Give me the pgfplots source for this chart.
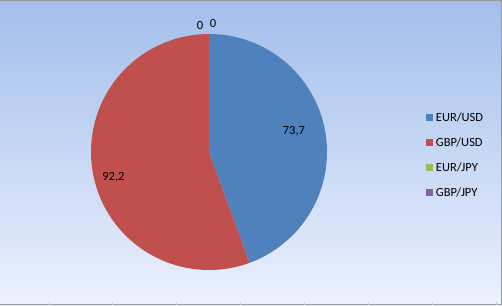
\documentclass[border=0pt]{standalone}
\usepackage{pgfplots}
\pgfplotsset{compat=1.18}
\usepackage{fontspec}
\setmainfont{Carlito}
\definecolor{eurusd}{HTML}{4F81BD}
\definecolor{gbpusd}{HTML}{C0504D}
\definecolor{eurjpy}{HTML}{9BBB59}
\definecolor{gbpjpy}{HTML}{8064A2}
\definecolor{bgtop}{RGB}{163,190,235}
\definecolor{bgbot}{RGB}{235,241,254}
\def\vA{73.7}
\def\vB{92.2}
\def\vC{0}
\def\vD{0}
\begin{document}
\begin{tikzpicture}
\path[use as bounding box] (0,0) rectangle (502bp,306bp);
\shade[top color=bgtop, bottom color=bgbot] (0,0) rectangle (502bp,306bp);
\draw[gray!80, line width=1bp] (0,305.5bp) -- (501.5bp,305.5bp) -- (501.5bp,1.5bp) -- (0,1.5bp);
\foreach \xx in {49,112,176,240,304,368,432,496}
  \draw[gray!40, line width=0.6bp] (\xx bp,1bp) -- (\xx bp,3.5bp);
\pgfmathsetmacro{\tot}{\vA+\vB+\vC+\vD}
\pgfmathsetmacro{\aA}{90-\vA/\tot*360}
\pgfmathsetmacro{\aB}{\aA-\vB/\tot*360}
\begin{axis}[
  at={(0,0)}, anchor=south west,
  scale only axis, width=502bp, height=306bp,
  xmin=-1.7712, xmax=2.4831, ymin=-1.3051, ymax=1.2881,
  hide axis, clip=false,
  font=\fontsize{12.5bp}{14bp}\selectfont,
  legend style={at={(0.849,0.639)}, anchor=north west, draw=none, fill=none,
    row sep=10.8bp, font=\fontsize{12.5bp}{14bp}\selectfont,
    inner sep=0pt, outer sep=0pt,
    nodes={inner xsep=2.5bp},
    /tikz/every even column/.append style={column sep=0bp}},
  legend cell align=left,
  legend image code/.code={\fill[#1] (0bp,-3.6bp) rectangle (7.2bp,3.6bp);},
]
\addplot[draw=none, fill=eurusd, domain=\aA:90, samples=150, variable=\t]
  ({cos(\t)},{sin(\t)}) -- (0,0) -- cycle;
\addlegendentry{EUR/USD}
\addplot[draw=none, fill=gbpusd, domain=\aB:\aA, samples=150, variable=\t]
  ({cos(\t)},{sin(\t)}) -- (0,0) -- cycle;
\addlegendentry{GBP/USD}
\addlegendimage{fill=eurjpy, draw=none}
\addlegendentry{EUR/JPY}
\addlegendimage{fill=gbpjpy, draw=none}
\addlegendentry{GBP/JPY}
\node at (0.72,0.178) {73,7};
\node at (-0.81,-0.21) {92,2};
\node at (-0.076,1.076) {0};
\node at (0.034,1.085) {0};
\end{axis}
\end{tikzpicture}
\end{document}
